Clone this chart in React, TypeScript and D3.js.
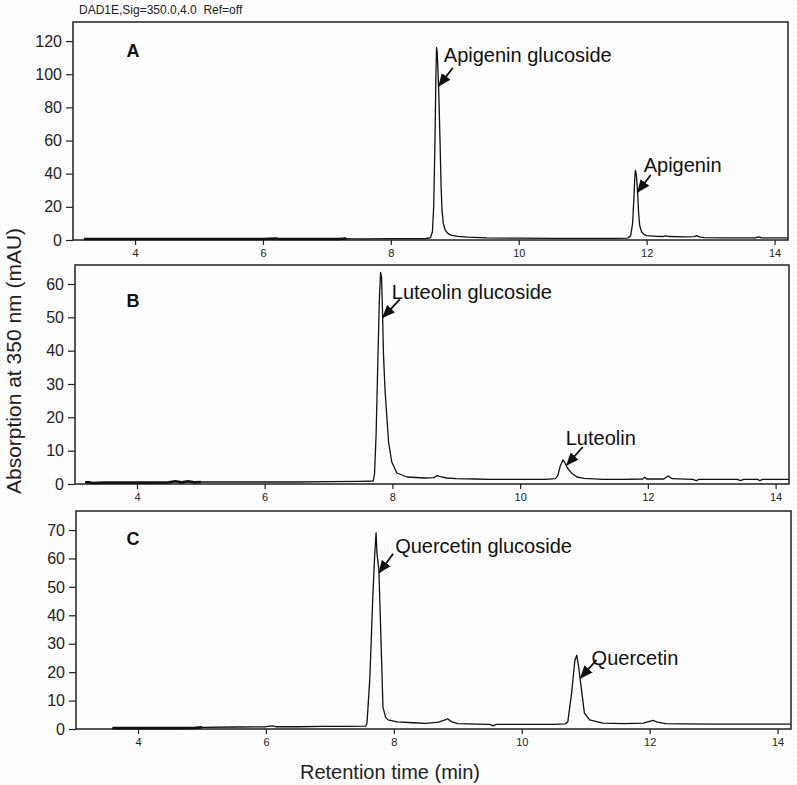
import * as d3 from "d3"
import React, { useEffect, useRef } from "react"

// overall picture size
const W = 797, H = 785

const headerText = "DAD1E,Sig=350.0,4.0  Ref=off"
const xTitle = "Retention time (min)"
const yTitle = "Absorption at 350 nm (mAU)"

// retention time axis (min)
const xDomain = [3.03, 14.21]
const xTicks = [4, 6, 8, 10, 12, 14]

const ticksA = [0, 20, 40, 60, 80, 100, 120]
const ticksB = [0, 10, 20, 30, 40, 50, 60]
const ticksC = [0, 10, 20, 30, 40, 50, 60, 70]

// traces: [time (min), mAU]
const traceA: [number, number][] = [
  [3.2, 0.6], [3.5, 0.6], [4.0, 0.6], [4.5, 0.6], [5.0, 0.6], [5.5, 0.6], [6.0, 0.6], [6.2, 0.9], [6.25, 0.6],
  [6.8, 0.6], [7.2, 0.6], [7.3, 0.9], [7.35, 0.7], [7.6, 0.7], [8.0, 0.8], [8.3, 0.8], [8.55, 0.9], [8.62, 1.5],
  [8.65, 5], [8.67, 20], [8.69, 60], [8.705, 100], [8.715, 116], [8.725, 113], [8.735, 104], [8.75, 88],
  [8.77, 58], [8.785, 33], [8.8, 18], [8.82, 10], [8.85, 6], [8.89, 4], [8.95, 2.8], [9.05, 2.2], [9.2, 1.7],
  [9.5, 1.3], [10.0, 1.1], [10.5, 1.0], [11.0, 1.0], [11.5, 1.0], [11.7, 1.1], [11.75, 2.5], [11.78, 10],
  [11.8, 25], [11.815, 38], [11.825, 42], [11.84, 39], [11.86, 28], [11.875, 16], [11.89, 9], [11.92, 5],
  [11.96, 3.2], [12.0, 2.6], [12.15, 2.2], [12.25, 2.1], [12.3, 2.5], [12.35, 2.1], [12.6, 1.9], [12.75, 2.0],
  [12.78, 2.6], [12.82, 1.9], [12.9, 1.4], [13.2, 1.3], [13.5, 1.3], [13.7, 1.3], [13.75, 1.9], [13.8, 1.3],
  [14.21, 1.3]
]

const traceB: [number, number][] = [
  [3.19, 0.5], [3.25, 0.5], [3.3, 0.3], [3.5, 0.4], [4.0, 0.4], [4.5, 0.5], [4.6, 0.8], [4.7, 0.5], [4.8, 0.8],
  [4.9, 0.5], [5.0, 0.6], [5.5, 0.6], [6.0, 0.6], [6.5, 0.6], [7.0, 0.7], [7.5, 0.8], [7.7, 0.9], [7.72, 3],
  [7.745, 15], [7.77, 35], [7.795, 55], [7.815, 63.5], [7.83, 62], [7.845, 52], [7.86, 39], [7.885, 28],
  [7.91, 21], [7.94, 12.6], [7.99, 6.6], [8.07, 3.3], [8.23, 2.1], [8.5, 1.8], [8.65, 1.9], [8.7, 2.5],
  [8.75, 2.2], [8.85, 1.8], [9.0, 1.6], [9.3, 1.5], [9.5, 1.4], [10.0, 1.4], [10.4, 1.4], [10.55, 1.6],
  [10.59, 2.5], [10.63, 5.5], [10.67, 7.2], [10.7, 6.4], [10.74, 4.8], [10.8, 3.4], [10.89, 2.1], [11.0, 1.7],
  [11.3, 1.4], [11.6, 1.4], [11.92, 1.5], [11.95, 2.0], [11.98, 1.5], [12.25, 1.5], [12.32, 2.4], [12.38, 1.6],
  [12.7, 1.4], [12.76, 1.0], [12.8, 1.4], [13.4, 1.4], [13.45, 1.0], [13.5, 1.4], [13.72, 1.4], [13.75, 1.0],
  [13.8, 1.4], [14.21, 1.4]
]

const traceC: [number, number][] = [
  [3.6, 0.3], [4.0, 0.3], [4.5, 0.3], [4.9, 0.4], [5.0, 0.6], [5.5, 0.7], [6.0, 0.8], [6.1, 1.1], [6.15, 0.8],
  [6.5, 0.8], [6.9, 0.9], [7.3, 0.9], [7.56, 1.0], [7.58, 2], [7.625, 18], [7.67, 46], [7.7, 61], [7.722, 69],
  [7.735, 62], [7.766, 56], [7.79, 38], [7.81, 23], [7.83, 7.7], [7.87, 4.2], [7.91, 3.2], [8.05, 2.5],
  [8.3, 2.2], [8.5, 2.0], [8.7, 2.4], [8.8, 3.2], [8.84, 3.6], [8.9, 2.6], [9.0, 1.9], [9.3, 1.7], [9.5, 1.6],
  [9.55, 1.1], [9.6, 1.6], [10.0, 1.6], [10.5, 1.6], [10.68, 1.8], [10.72, 2.5], [10.78, 12.7], [10.83, 24],
  [10.86, 26], [10.89, 21.8], [10.94, 12.7], [10.98, 5.6], [11.06, 3.2], [11.27, 2.1], [11.6, 1.9], [11.9, 2.1],
  [12.0, 2.7], [12.05, 3.0], [12.12, 2.4], [12.25, 1.9], [12.5, 1.8], [13.0, 1.7], [13.5, 1.7], [14.21, 1.7]
]

// peak names and the point each arrow points at [time, mAU]
const namesA = ["Apigenin glucoside", "Apigenin"]
const tipsA: [number, number][] = [[8.75, 93], [11.86, 29]]
const namesB = ["Luteolin glucoside", "Luteolin"]
const tipsB: [number, number][] = [[7.85, 50], [10.73, 5.7]]
const namesC = ["Quercetin glucoside", "Quercetin"]
const tipsC: [number, number][] = [[7.77, 55], [10.92, 18]]

// layout of the three stacked panels
const panels = [
  { letter: "A", top: 22, bottom: 240, left: 73, right: 788, yMax: 131.5, letterY: 57, thickEnd: 7.3,
    ticks: ticksA, trace: traceA, names: namesA, tips: tipsA,
    arrowOff: [[14, -18], [13, -17]], textOff: [[5, -24], [6, -20]] },
  { letter: "B", top: 265, bottom: 484, left: 75, right: 789, yMax: 65.7, letterY: 307, thickEnd: 5.0,
    ticks: ticksB, trace: traceB, names: namesB, tips: tipsB,
    arrowOff: [[17, -18], [16, -18]], textOff: [[9, -18], [-1, -20]] },
  { letter: "C", top: 511, bottom: 729, left: 76, right: 791, yMax: 76.7, letterY: 545, thickEnd: 5.0,
    ticks: ticksC, trace: traceC, names: namesC, tips: tipsC,
    arrowOff: [[14, -19], [16, -18]], textOff: [[16, -20], [11, -13]] }
]

const font = "Arial, 'Liberation Sans', Helvetica, sans-serif"

export default function App() {
  const ref = useRef<SVGSVGElement>(null)

  useEffect(() => {
    const svg = d3.select(ref.current)
    svg.selectAll("*").remove()

    const defs = svg.append("defs")
    // faint screen-dot texture of the scanned figure
    const pat = defs.append("pattern")
      .attr("id", "dots").attr("width", 4).attr("height", 4)
      .attr("patternUnits", "userSpaceOnUse")
    pat.append("rect").attr("width", 4).attr("height", 4).attr("fill", "#fff")
    pat.append("rect").attr("x", 0).attr("y", 0).attr("width", 1).attr("height", 1).attr("fill", "#f0f0f0")
    pat.append("rect").attr("x", 2).attr("y", 2).attr("width", 1).attr("height", 1).attr("fill", "#f0f0f0")

    // arrow head for the peak labels
    defs.append("marker")
      .attr("id", "head").attr("viewBox", "0 0 12 10")
      .attr("refX", 11).attr("refY", 5)
      .attr("markerWidth", 13).attr("markerHeight", 11)
      .attr("markerUnits", "userSpaceOnUse")
      .attr("orient", "auto")
      .append("path").attr("d", "M0,0 L12,5 L0,10 Z").attr("fill", "#111")

    svg.append("rect").attr("width", W).attr("height", H).attr("fill", "url(#dots)")

    svg.append("text")
      .attr("x", 79).attr("y", 14)
      .attr("font-family", font).attr("font-size", 12).attr("fill", "#222")
      .attr("xml:space", "preserve")
      .text(headerText)

    panels.forEach(p => {
      const x = d3.scaleLinear().domain(xDomain).range([p.left, p.right])
      const y = d3.scaleLinear().domain([0, p.yMax]).range([p.bottom, p.top])
      const g = svg.append("g")

      // frame
      g.append("rect")
        .attr("x", p.left).attr("y", p.top)
        .attr("width", p.right - p.left).attr("height", p.bottom - p.top)
        .attr("fill", "none").attr("stroke", "#222").attr("stroke-width", 1.5)

      const yAxis = g.append("g")
        .attr("transform", "translate(" + p.left + ",0)")
        .call(d3.axisLeft(y).tickValues(p.ticks).tickSize(7).tickPadding(4).tickFormat(d3.format("d")))
      yAxis.select(".domain").remove()
      yAxis.selectAll("line").attr("stroke", "#222").attr("stroke-width", 1.2)
      yAxis.selectAll("text").attr("font-family", font).attr("font-size", 16).attr("fill", "#222")

      const xAxis = g.append("g")
        .attr("transform", "translate(0," + p.bottom + ")")
        .call(d3.axisBottom(x).tickValues(xTicks).tickSize(5).tickPadding(4).tickFormat(d3.format("d")))
      xAxis.select(".domain").remove()
      xAxis.selectAll("line").attr("stroke", "#222").attr("stroke-width", 1.2)
      xAxis.selectAll("text").attr("font-family", font).attr("font-size", 11).attr("fill", "#222")

      const line = d3.line<[number, number]>()
        .x(d => x(d[0]))
        .y(d => y(d[1]))

      // early baseline looks heavy in the original
      g.append("path")
        .datum(p.trace.filter(d => d[0] <= p.thickEnd))
        .attr("d", line)
        .attr("fill", "none").attr("stroke", "#111").attr("stroke-width", 2.6)

      g.append("path")
        .datum(p.trace)
        .attr("d", line)
        .attr("fill", "none").attr("stroke", "#111").attr("stroke-width", 1.3)
        .attr("stroke-linejoin", "round")

      g.append("text")
        .attr("x", 133).attr("y", p.letterY)
        .attr("text-anchor", "middle")
        .attr("font-family", font).attr("font-size", 18).attr("font-weight", "bold").attr("fill", "#111")
        .text(p.letter)

      p.tips.forEach((tip, i) => {
        const tx = x(tip[0]), ty = y(tip[1])
        g.append("line")
          .attr("x1", tx + p.arrowOff[i][0]).attr("y1", ty + p.arrowOff[i][1])
          .attr("x2", tx).attr("y2", ty)
          .attr("stroke", "#111").attr("stroke-width", 1.8)
          .attr("marker-end", "url(#head)")
        g.append("text")
          .attr("x", tx + p.textOff[i][0]).attr("y", ty + p.textOff[i][1])
          .attr("font-family", font).attr("font-size", 20).attr("fill", "#111")
          .text(p.names[i])
      })
    })

    svg.append("text")
      .attr("x", 390).attr("y", 779)
      .attr("text-anchor", "middle")
      .attr("font-family", font).attr("font-size", 20).attr("fill", "#222")
      .text(xTitle)

    svg.append("text")
      .attr("transform", "translate(21,361) rotate(-90)")
      .attr("text-anchor", "middle")
      .attr("font-family", font).attr("font-size", 21).attr("fill", "#222")
      .text(yTitle)
  }, [])

  return (
    <svg
      ref={ref}
      width={W}
      height={H}
      viewBox={"0 0 " + W + " " + H}
      style={{ position: "absolute", left: 0, top: 0 }}
    />
  )
}
